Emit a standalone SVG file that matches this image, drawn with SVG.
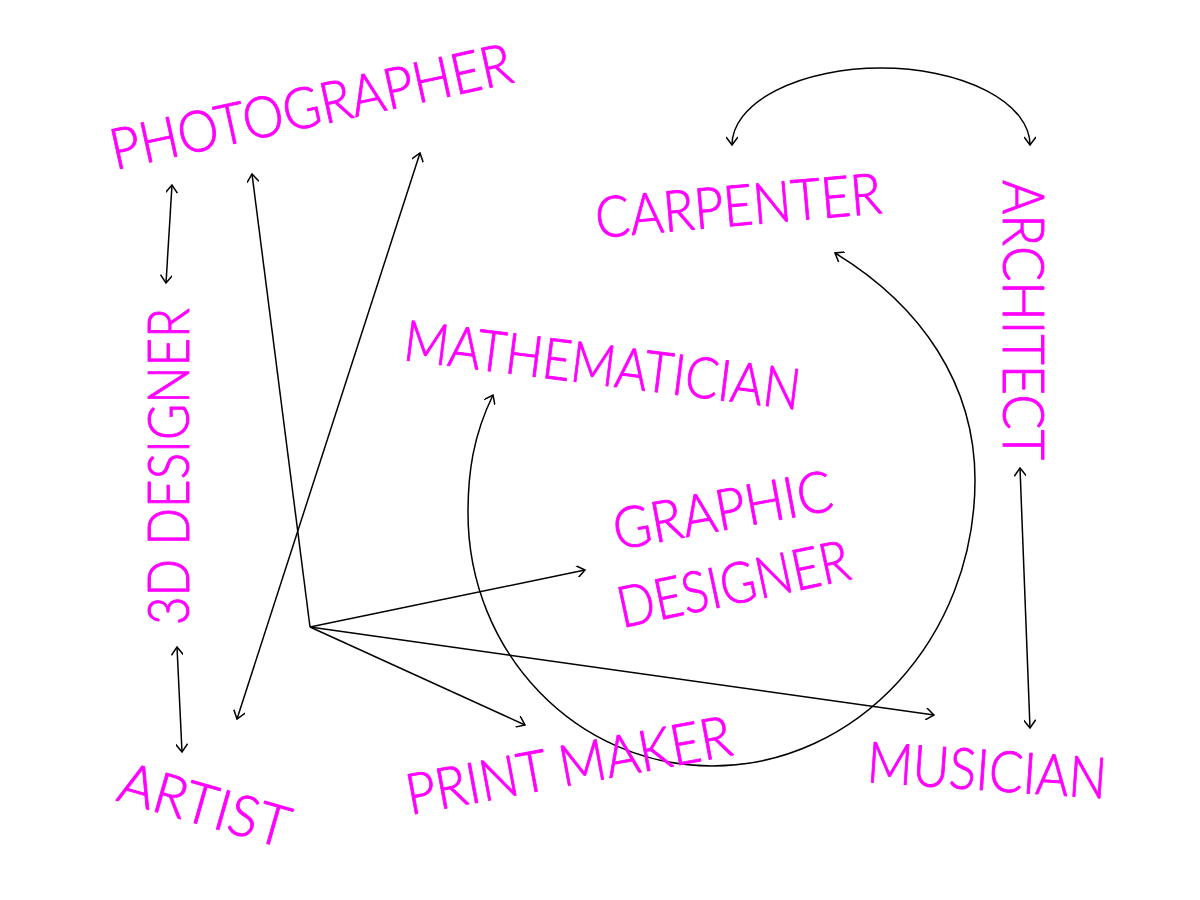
<svg xmlns="http://www.w3.org/2000/svg" width="1200" height="900" viewBox="0 0 1200 900">
  <style>
    .lbl { font-family: Lato, "Open Sans", "Liberation Sans", sans-serif; font-weight: 300; font-size: 57px; fill: #ff00ff; stroke: #ff00ff; stroke-width: 0.9; stroke-linejoin: round; }
    .con { fill: none; stroke: #000; stroke-width: 1.5; }
    .one { marker-end: url(#ah); }
    .two { marker-start: url(#ah); marker-end: url(#ah); }
  </style>
  <defs>
    <marker id="ah" viewBox="0 0 12 12" refX="10" refY="6" markerWidth="12" markerHeight="12" markerUnits="userSpaceOnUse" orient="auto-start-reverse">
      <path d="M2,0 L10,6 L2,12" fill="none" stroke="#000" stroke-width="1.5"/>
    </marker>
  </defs>
  <rect width="1200" height="900" fill="#fff"/>

  <g id="connectors">
    <line class="con one" x1="310" y1="627" x2="252" y2="174"/>
    <line class="con one" x1="310" y1="627" x2="585" y2="570"/>
    <line class="con one" x1="310" y1="627" x2="525" y2="725"/>
    <line class="con one" x1="310" y1="627" x2="934" y2="715"/>
    <line class="con two" x1="237" y1="719" x2="420" y2="153"/>
    <line class="con two" x1="172" y1="185" x2="166" y2="283"/>
    <line class="con two" x1="177" y1="647" x2="182" y2="752"/>
    <line class="con two" x1="1020" y1="468" x2="1030" y2="728"/>
    <path class="con two" d="M732,145 A149,77 0 0 1 1030,145"/>
    <path class="con two" d="M493,395 C473,436 468,473 468,513 C468,653 577,766 712,766 C857,766 975,638 975,480 C975,385 922,306 835,253"/>
  </g>

  <g id="photographer"><text class="lbl" transform="translate(115,170) rotate(-12.4)" textLength="410" lengthAdjust="spacingAndGlyphs">PHOTOGRAPHER</text></g>
  <g id="carpenter"><text class="lbl" transform="translate(597,238) rotate(-5)" textLength="287" lengthAdjust="spacingAndGlyphs">CARPENTER</text></g>
  <g id="architect"><text class="lbl" transform="translate(1003,180) rotate(90)" textLength="280" lengthAdjust="spacingAndGlyphs">ARCHITECT</text></g>
  <g id="designer3d"><text class="lbl" transform="translate(189,625) rotate(-90)" textLength="317" lengthAdjust="spacingAndGlyphs">3D DESIGNER</text></g>
  <g id="mathematician"><text class="lbl" transform="translate(402,360) rotate(7.2)" textLength="399" lengthAdjust="spacingAndGlyphs">MATHEMATICIAN</text></g>
  <g id="graphic-designer">
    <text class="lbl" transform="translate(617,550) rotate(-10.5)" textLength="222" lengthAdjust="spacingAndGlyphs">GRAPHIC</text>
    <text class="lbl" transform="translate(622,628) rotate(-12)" textLength="236" lengthAdjust="spacingAndGlyphs">DESIGNER</text>
  </g>
  <g id="artist"><text class="lbl" transform="translate(115,800) rotate(16)" textLength="175" lengthAdjust="spacingAndGlyphs">ARTIST</text></g>
  <g id="print-maker"><text class="lbl" transform="translate(410,815) rotate(-10.5)" textLength="330" lengthAdjust="spacingAndGlyphs">PRINT MAKER</text></g>
  <g id="musician"><text class="lbl" transform="translate(866,782) rotate(4)" textLength="240" lengthAdjust="spacingAndGlyphs">MUSICIAN</text></g>
</svg>
